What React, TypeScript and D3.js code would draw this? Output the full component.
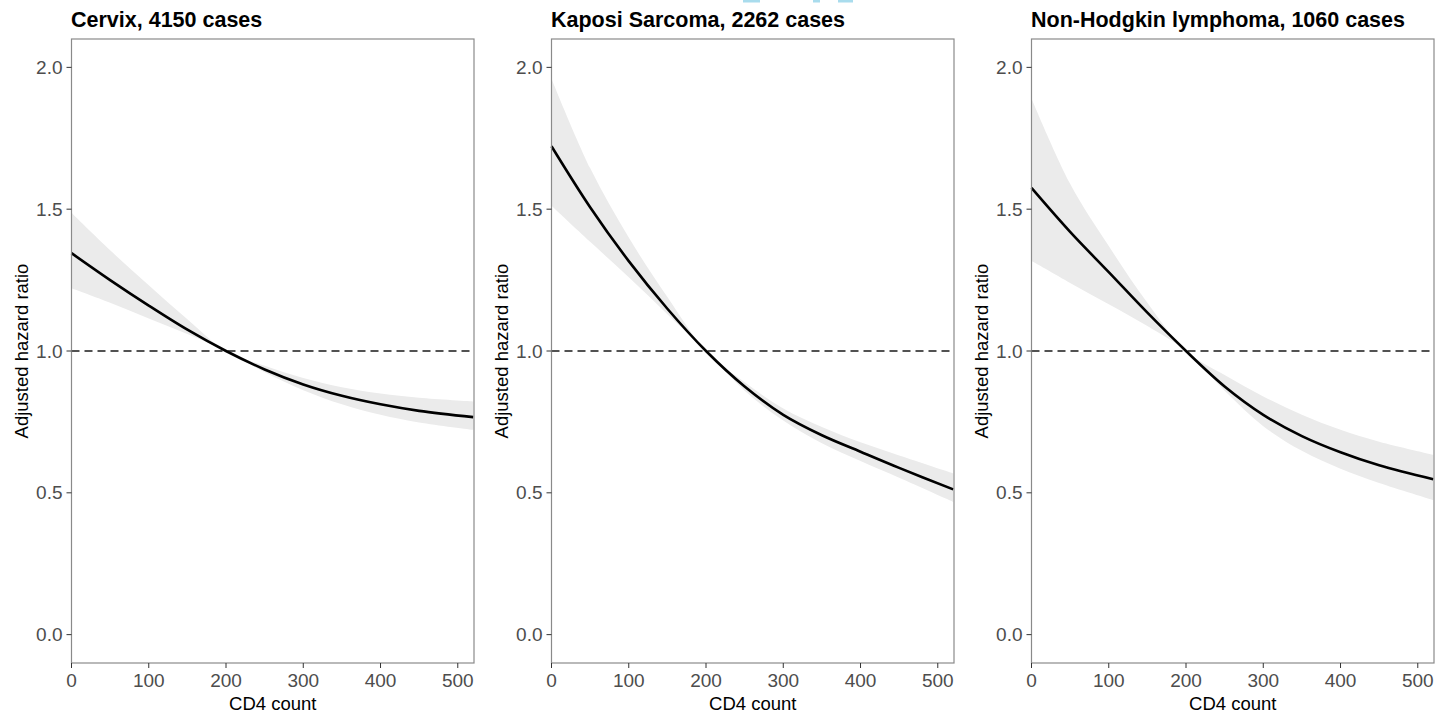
import React, { useEffect, useRef } from 'react';
import * as d3 from 'd3';

// CD4 grid the curves were read at
const cd4 = [0, 50, 100, 150, 200, 250, 300, 350, 400, 450, 520];

const cervixHr = [1.345, 1.25, 1.16, 1.075, 1.0, 0.935, 0.882, 0.842, 0.812, 0.789, 0.767];
const cervixLow = [1.221, 1.17, 1.115, 1.06, 1.0, 0.925, 0.862, 0.812, 0.775, 0.748, 0.722];
const cervixHigh = [1.487, 1.355, 1.232, 1.112, 1.0, 0.948, 0.905, 0.872, 0.85, 0.835, 0.822];

const kaposiHr = [1.722, 1.507, 1.317, 1.149, 1.0, 0.875, 0.775, 0.703, 0.645, 0.588, 0.512];
const kaposiLow = [1.512, 1.385, 1.26, 1.13, 1.0, 0.86, 0.755, 0.675, 0.612, 0.553, 0.468];
const kaposiHigh = [1.96, 1.645, 1.40, 1.19, 1.0, 0.89, 0.797, 0.732, 0.678, 0.632, 0.569];

const nhlHr = [1.575, 1.42, 1.278, 1.135, 1.0, 0.875, 0.775, 0.70, 0.643, 0.597, 0.548];
const nhlLow = [1.318, 1.24, 1.165, 1.088, 1.0, 0.86, 0.735, 0.648, 0.585, 0.535, 0.475];
const nhlHigh = [1.89, 1.59, 1.37, 1.17, 1.0, 0.915, 0.84, 0.775, 0.722, 0.68, 0.634];

const titles = ['Cervix, 4150 cases', 'Kaposi Sarcoma, 2262 cases', 'Non-Hodgkin lymphoma, 1060 cases'];
const xTicks = [0, 100, 200, 300, 400, 500];
const yTicks = [0, 0.5, 1, 1.5, 2];

const panels = [
	{ title: titles[0], hr: cervixHr, low: cervixLow, high: cervixHigh },
	{ title: titles[1], hr: kaposiHr, low: kaposiLow, high: kaposiHigh },
	{ title: titles[2], hr: nhlHr, low: nhlLow, high: nhlHigh },
];

const width = 1440;
const height = 720;
const panelStep = 480;
const font = 'Liberation Sans, Arial, sans-serif';

export default function App() {
	const ref = useRef<SVGSVGElement | null>(null);

	useEffect(() => {
		const svg = d3.select(ref.current);
		svg.selectAll('*').remove();

		const xScale = d3.scaleLinear().domain([0, 521]).range([71.5, 474]);
		const yScale = d3.scaleLinear().domain([-0.1, 2.1]).range([663, 39]);
		const top = yScale.range()[1];
		const bottom = yScale.range()[0];

		// faint cyan remnants at the top edge of the image
		svg.append('g')
			.selectAll('rect')
			.data([[743, 17], [813, 7], [838, 15]])
			.enter()
			.append('rect')
			.attr('x', d => d[0])
			.attr('y', 0)
			.attr('width', d => d[1])
			.attr('height', 2.5)
			.attr('fill', '#a9dced');

		panels.forEach((p, i) => {
			const g = svg.append('g').attr('transform', `translate(${i * panelStep},0)`);
			const rows = cd4.map((c, k) => ({ x: c, hr: p.hr[k], low: p.low[k], high: p.high[k] }));

			const area = d3
				.area<any>()
				.x(d => xScale(d.x))
				.y0(d => yScale(d.low))
				.y1(d => yScale(d.high))
				.curve(d3.curveCatmullRom.alpha(0.5));
			const line = d3
				.line<any>()
				.x(d => xScale(d.x))
				.y(d => yScale(d.hr))
				.curve(d3.curveCatmullRom.alpha(0.5));

			g.append('path').attr('d', area(rows)).attr('fill', '#ebebeb');

			// reference line at HR = 1
			g.append('line')
				.attr('x1', xScale.range()[0])
				.attr('x2', xScale.range()[1])
				.attr('y1', yScale(1))
				.attr('y2', yScale(1))
				.attr('stroke', '#1a1a1a')
				.attr('stroke-width', 1.3)
				.attr('stroke-dasharray', '8,5');

			g.append('path')
				.attr('d', line(rows))
				.attr('fill', 'none')
				.attr('stroke', '#000')
				.attr('stroke-width', 2.6);

			// panel border
			g.append('rect')
				.attr('x', xScale.range()[0])
				.attr('y', top)
				.attr('width', xScale.range()[1] - xScale.range()[0])
				.attr('height', bottom - top)
				.attr('fill', 'none')
				.attr('stroke', '#8a8a8a')
				.attr('stroke-width', 1.2);

			// y axis
			const yAxis = g.append('g');
			yAxis
				.selectAll('line')
				.data(yTicks)
				.enter()
				.append('line')
				.attr('x1', xScale.range()[0] - 5)
				.attr('x2', xScale.range()[0])
				.attr('y1', d => yScale(d))
				.attr('y2', d => yScale(d))
				.attr('stroke', '#333')
				.attr('stroke-width', 1);
			yAxis
				.selectAll('text')
				.data(yTicks)
				.enter()
				.append('text')
				.attr('x', xScale.range()[0] - 9)
				.attr('y', d => yScale(d))
				.attr('dy', '0.35em')
				.attr('text-anchor', 'end')
				.attr('fill', '#4d4d4d')
				.style('font', `19px ${font}`)
				.text(d => d3.format('.1f')(d));

			// x axis
			const xAxis = g.append('g');
			xAxis
				.selectAll('line')
				.data(xTicks)
				.enter()
				.append('line')
				.attr('x1', d => xScale(d))
				.attr('x2', d => xScale(d))
				.attr('y1', bottom)
				.attr('y2', bottom + 5)
				.attr('stroke', '#333')
				.attr('stroke-width', 1);
			xAxis
				.selectAll('text')
				.data(xTicks)
				.enter()
				.append('text')
				.attr('x', d => xScale(d))
				.attr('y', 687)
				.attr('text-anchor', 'middle')
				.attr('fill', '#4d4d4d')
				.style('font', `19px ${font}`)
				.text(d => d);

			g.append('text')
				.attr('x', (xScale.range()[0] + xScale.range()[1]) / 2)
				.attr('y', 710)
				.attr('text-anchor', 'middle')
				.attr('fill', '#000')
				.style('font', `18.5px ${font}`)
				.text('CD4 count');

			g.append('text')
				.attr('transform', `translate(28,${(top + bottom) / 2}) rotate(-90)`)
				.attr('text-anchor', 'middle')
				.attr('fill', '#000')
				.style('font', `18.5px ${font}`)
				.text('Adjusted hazard ratio');

			g.append('text')
				.attr('x', 71)
				.attr('y', 26.5)
				.attr('fill', '#000')
				.style('font', `bold 21.5px ${font}`)
				.text(p.title);
		});
	}, []);

	return (
		<div style={{ position: 'absolute', left: 0, top: 0 }}>
			<svg ref={ref} width={width} height={height} style={{ display: 'block', background: '#fff' }} />
		</div>
	);
}
